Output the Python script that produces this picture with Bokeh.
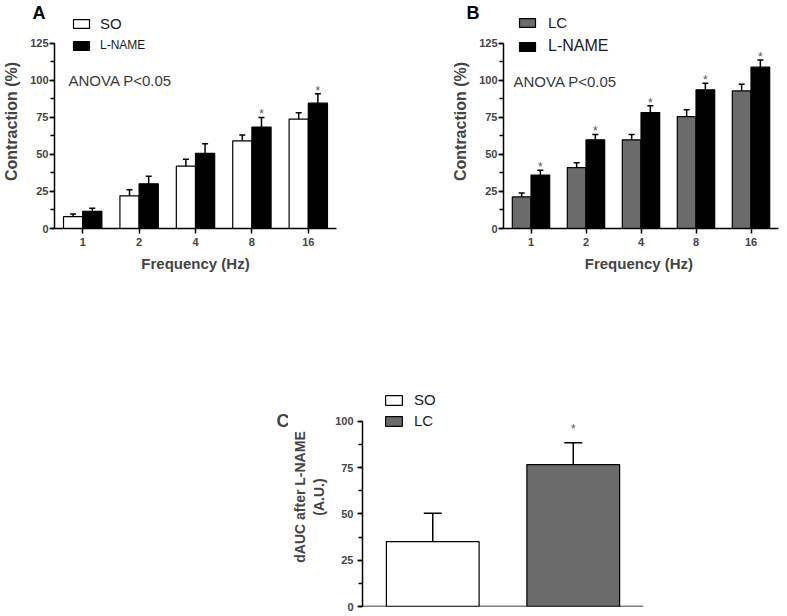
from bokeh.plotting import figure
from bokeh.layouts import column, row
from bokeh.models import (ColumnDataSource, FactorRange, Range1d, SingleIntervalTicker,
                          Whisker, Label, Legend, LegendItem, TeeHead, Span)
from bokeh.transform import dodge
from bokeh.core.properties import value
from bokeh.embed import file_html
from bokeh.resources import INLINE

# ---------------- data ----------------
freqs = ["1", "2", "4", "8", "16"]

a_so = [8.0, 22.0, 42.0, 59.1, 73.8]
a_so_err = [1.7, 4.1, 4.7, 4.0, 4.2]
a_lname = [11.6, 30.1, 50.6, 68.4, 84.5]
a_lname_err = [2.0, 5.2, 6.5, 6.5, 6.3]
a_sig = ["", "", "", "*", "*"]

b_lc = [21.3, 41.1, 59.8, 75.5, 92.8]
b_lc_err = [2.6, 3.2, 3.6, 4.5, 4.5]
b_lname = [36.0, 59.8, 78.2, 93.5, 108.8]
b_lname_err = [3.3, 3.6, 4.5, 4.5, 4.9]
b_sig = ["*", "*", "*", "*", "*"]

c_groups = ["SO", "LC"]
c_vals = [35.0, 76.6]
c_errs = [15.3, 11.8]
c_sig = ["", "*"]

FONT = "Liberation Sans"
GREY = "#6b6b6b"


def style_axes(p, ylabel, xlabel, label_size="16px", ylabel_standoff=7, ytick_standoff=1):
    p.outline_line_color = None
    p.xgrid.grid_line_color = None
    p.ygrid.grid_line_color = None
    p.background_fill_color = None
    p.border_fill_color = None
    for ax in p.yaxis:
        ax.axis_label = ylabel
        ax.axis_label_text_font = FONT
        ax.axis_label_text_font_style = "bold"
        ax.axis_label_text_font_size = label_size
        ax.axis_label_standoff = ylabel_standoff
        ax.axis_line_width = 1.5
        ax.major_tick_line_width = 1.5
        ax.minor_tick_line_width = 1.5
        ax.major_tick_out = 5
        ax.major_tick_in = 0
        ax.minor_tick_out = 4
        ax.minor_tick_in = 0
        ax.major_label_standoff = ytick_standoff
        ax.major_label_text_font = FONT
        ax.major_label_text_font_style = "bold"
        ax.major_label_text_font_size = "11px"
    for ax in p.xaxis:
        ax.axis_label = xlabel
        ax.axis_label_text_font = FONT
        ax.axis_label_text_font_style = "bold"
        ax.axis_label_text_font_size = "15px"
        ax.axis_label_standoff = 6
        ax.axis_line_width = 1.5
        ax.major_tick_line_width = 1.5
        ax.major_tick_out = 5
        ax.major_tick_in = 0
        ax.minor_tick_line_color = None
        ax.major_label_standoff = 4
        ax.major_label_text_font = FONT
        ax.major_label_text_font_style = "bold"
        ax.major_label_text_font_size = "11px"


def add_legend(p, renderer, text, loc, size, standoff, gw=20, gh=11, index=None):
    lg = Legend(items=[LegendItem(label=text, renderers=[renderer], index=index)],
                location=loc, orientation="vertical",
                background_fill_alpha=0, border_line_alpha=0,
                padding=0, margin=0, spacing=0,
                glyph_width=gw, glyph_height=gh, label_height=gh,
                label_standoff=standoff,
                label_text_font=FONT, label_text_font_size=size,
                label_text_color="#1a1a1a")
    p.add_layout(lg, "center")


def style_title(p, offset):
    p.title.align = "left"
    p.title.offset = offset
    p.title.standoff = -16
    p.title.text_font = FONT
    p.title.text_font_style = "bold"
    p.title.text_font_size = "18px"
    p.title.text_color = "black"


def freq_panel(ctrl, ctrl_err, lname, lname_err, sig, ctrl_name, ctrl_fill,
               letter, letter_x, anova_x, anova_y, fw, right, xlabel,
               ctrl_size, lname_size, standoff, leg_x, leg_y1, leg_y2):
    src = ColumnDataSource(dict(
        freq=freqs, ctrl=ctrl, lname=lname,
        ctrl_up=[v + e for v, e in zip(ctrl, ctrl_err)],
        lname_up=[v + e for v, e in zip(lname, lname_err)],
        star=sig))
    p = figure(title=letter, x_range=FactorRange(*freqs), y_range=Range1d(0, 144.3),
               frame_width=fw, frame_height=214,
               min_border_left=54, min_border_right=right,
               min_border_top=14, min_border_bottom=72,
               output_backend="svg", toolbar_location=None)
    style_title(p, letter_x)
    r1 = p.vbar(x=dodge("freq", -0.17, range=p.x_range), top="ctrl", width=0.34,
                source=src, fill_color=ctrl_fill, line_color="black", line_width=1.2)
    r2 = p.vbar(x=dodge("freq", 0.17, range=p.x_range), top="lname", width=0.34,
                source=src, fill_color="black", line_color="black", line_width=1.2)
    for off, lo, up in [(-0.17, "ctrl", "ctrl_up"), (0.17, "lname", "lname_up")]:
        w = Whisker(source=src, base=dodge("freq", off, range=p.x_range),
                    lower=lo, upper=up, line_color="black", line_width=1.5,
                    lower_head=None,
                    upper_head=TeeHead(size=6, line_width=1.5, line_color="black"))
        p.add_layout(w)
    p.text(x=dodge("freq", 0.17, range=p.x_range), y="lname_up", text="star",
           source=src, text_font=value(FONT), text_font_size="12px",
           text_color="#555555", text_align="center",
           text_baseline="alphabetic", y_offset=-3)
    p.yaxis.ticker = SingleIntervalTicker(interval=25, num_minor_ticks=2)
    p.yaxis.bounds = (0, 125)
    style_axes(p, "Contraction (%)", xlabel)
    add_legend(p, r1, ctrl_name, (leg_x, leg_y1), ctrl_size, standoff)
    add_legend(p, r2, "L-NAME", (leg_x, leg_y2), lname_size, standoff)
    p.add_layout(Label(x=anova_x, y=anova_y, x_units="screen", y_units="screen",
                       text="ANOVA P<0.05", text_font=FONT, text_font_size="15px",
                       text_color="#3a3a3a", text_baseline="middle"))
    return p


pa = freq_panel(a_so, a_so_err, a_lname, a_lname_err, a_sig, "SO", "white",
                "A", -22, 14, 148.5, 282, 113, "Frequency (Hz)",
                "15px", "12px", 9, 17, 196, 176)
pb = freq_panel(b_lc, b_lc_err, b_lname, b_lname_err, b_sig, "LC", GREY,
                "B", -37, 10, 147, 275, 1, "Frequency  (Hz)",
                "15px", "16px", 11, 14, 197, 173)

# ---------------- panel C ----------------
srcc = ColumnDataSource(dict(
    grp=c_groups, val=c_vals,
    up=[v + e for v, e in zip(c_vals, c_errs)],
    fill=["white", GREY], star=c_sig))
pc = figure(x_range=FactorRange(*c_groups), y_range=Range1d(0, 118.2),
            frame_width=281, frame_height=219,
            min_border_left=69, min_border_right=10,
            min_border_top=87, min_border_bottom=8,
            output_backend="svg", toolbar_location=None)
rc = pc.vbar(x="grp", top="val", width=0.66, source=srcc, fill_color="fill",
             line_color="black", line_width=1.2)
pc.add_layout(Whisker(source=srcc, base="grp", lower="val", upper="up",
                      line_color="black", line_width=1.5, lower_head=None,
                      upper_head=TeeHead(size=18, line_width=1.5, line_color="black")))
pc.text(x="grp", y="up", text="star", source=srcc, text_font=value(FONT),
        text_font_size="12px", text_color="#555555", text_align="center",
        text_baseline="alphabetic", y_offset=-14)
pc.yaxis.ticker = SingleIntervalTicker(interval=25, num_minor_ticks=2)
pc.yaxis.bounds = (0, 100)
style_axes(pc, "dAUC after L-NAME\n(A.U.)", "", label_size="14px",
           ylabel_standoff=5, ytick_standoff=4)
pc.xaxis.visible = False
pc.add_layout(Span(location=0, dimension="width", line_color="black", line_width=1.5))

add_legend(pc, rc, "SO", (21, 198), "15px", 10, gw=21, gh=12, index=0)
add_legend(pc, rc, "LC", (21, 177), "15px", 10, gw=21, gh=12, index=1)

# blank strip holding the panel letter "C" to the left of panel C
pcl = figure(x_range=Range1d(0, 1), y_range=Range1d(0, 1),
             frame_width=288, frame_height=219,
             min_border_left=0, min_border_right=0, min_border_top=87, min_border_bottom=8,
             output_backend="svg", toolbar_location=None)
pcl.axis.visible = False
pcl.grid.visible = False
pcl.outline_line_color = None
pcl.background_fill_color = None
pcl.border_fill_color = None
pcl.add_layout(Label(x=276, y=185.5, x_units="screen", y_units="screen",
                     text="C", text_font=FONT, text_font_style="bold",
                     text_font_size="18px", text_baseline="middle"))

layout = column(row(pa, pb), row(pcl, pc))
open("out.html", "w").write(file_html(layout, INLINE))
